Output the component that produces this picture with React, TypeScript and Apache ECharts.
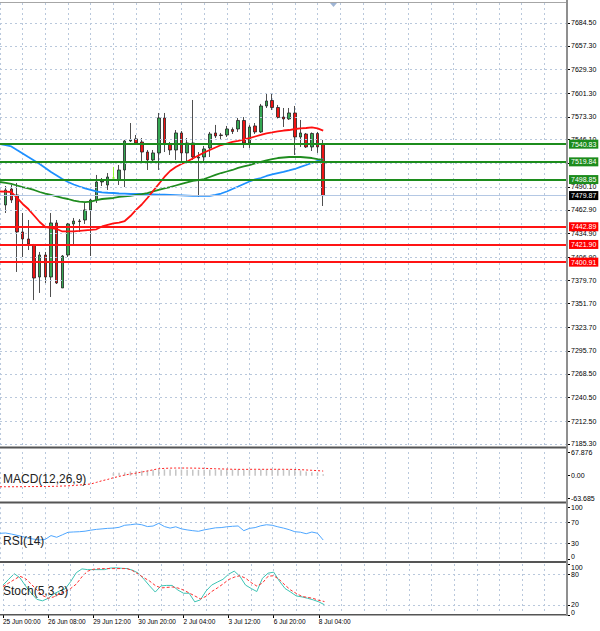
import React, { useEffect, useRef } from "react";
import * as echarts from "echarts";

const FONT = "'Liberation Sans', Arial, sans-serif";
const GRID_COLOR = "#b9c8dc";

// time axis: one slot per H4 bar, slot 0 = bar before the first visible candle
const slotCount = 101;
const timeLabels = ["25 Jun 00:00", "26 Jun 08:00", "29 Jun 12:00", "30 Jun 20:00", "2 Jul 04:00", "3 Jul 12:00", "6 Jul 20:00", "8 Jul 04:00"];
const timeLabelSlots = [0, 8, 16, 24, 32, 40, 48, 56];

// candles (bars 0..56, placed at slot bar+1)
const candleOpen = [7468.7, 7487.7, 7480.6, 7436.7, 7428.4, 7421.3, 7383.3, 7409.4, 7383.3, 7447.4, 7370.3, 7409.4, 7446.2, 7449.7, 7450.9, 7462.8, 7474.6, 7496.0, 7492.4, 7500.7, 7498.3, 7510.2, 7544.6, 7547.0, 7543.4, 7531.5, 7522.1, 7530.4, 7571.9, 7541.0, 7533.9, 7554.1, 7530.4, 7542.2, 7524.4, 7525.6, 7536.3, 7554.1, 7551.7, 7551.7, 7558.2, 7558.8, 7568.9, 7542.2, 7562.4, 7555.3, 7586.1, 7592.6, 7584.3, 7573.0, 7570.7, 7577.8, 7549.3, 7552.9, 7537.5, 7553.5, 7541.0];
const candleClose = [7486.5, 7474.6, 7436.7, 7428.4, 7422.5, 7382.1, 7409.4, 7383.3, 7447.4, 7376.2, 7408.2, 7446.2, 7449.7, 7449.1, 7462.8, 7474.6, 7496.0, 7497.2, 7501.9, 7500.7, 7510.2, 7544.6, 7545.8, 7542.2, 7531.5, 7522.1, 7530.4, 7571.9, 7541.0, 7533.9, 7554.1, 7530.4, 7542.2, 7525.6, 7525.6, 7535.1, 7552.9, 7550.5, 7551.1, 7558.8, 7555.9, 7568.9, 7542.2, 7561.2, 7555.3, 7586.1, 7592.0, 7584.3, 7572.4, 7570.7, 7577.8, 7549.3, 7554.1, 7537.5, 7553.5, 7537.5, 7479.87];
const candleLow = [7459.2, 7471.1, 7389.3, 7407.0, 7415.3, 7356.0, 7364.4, 7376.2, 7359.6, 7375.0, 7370.3, 7407.0, 7420.1, 7436.7, 7446.2, 7408.2, 7471.1, 7491.2, 7486.5, 7500.7, 7492.4, 7490.0, 7543.4, 7541.0, 7519.7, 7510.2, 7518.5, 7510.2, 7531.5, 7528.0, 7522.1, 7519.7, 7519.7, 7522.1, 7478.2, 7518.5, 7525.6, 7548.1, 7545.8, 7549.3, 7552.9, 7555.3, 7536.3, 7536.3, 7552.9, 7554.1, 7583.7, 7581.3, 7571.3, 7561.2, 7569.5, 7528.0, 7537.5, 7536.3, 7532.7, 7530.4, 7467.5];
const candleHigh = [7491.2, 7492.4, 7494.8, 7459.2, 7450.9, 7422.5, 7413.0, 7413.0, 7459.2, 7450.9, 7409.4, 7447.4, 7453.3, 7452.1, 7471.1, 7475.8, 7504.3, 7500.7, 7506.6, 7513.8, 7516.1, 7545.8, 7565.9, 7551.7, 7548.1, 7533.9, 7533.9, 7577.8, 7577.8, 7543.4, 7557.6, 7556.4, 7548.1, 7593.2, 7531.5, 7538.7, 7555.3, 7563.6, 7554.1, 7562.4, 7560.6, 7571.9, 7573.0, 7563.6, 7565.9, 7588.5, 7601.5, 7601.5, 7587.3, 7583.7, 7583.7, 7586.1, 7569.5, 7554.1, 7554.7, 7555.3, 7545.8];
const limeBars = [19];

// moving averages (slots 0..57)
const maFast = [7484.7, 7484.5, 7484.1, 7477.0, 7469.9, 7463.9, 7456.2, 7448.5, 7442.6, 7441.7, 7440.2, 7437.3, 7437.3, 7437.5, 7437.9, 7438.5, 7439.1, 7439.9, 7443.2, 7445.0, 7446.8, 7447.9, 7449.7, 7455.6, 7462.8, 7469.3, 7477.0, 7485.3, 7493.6, 7501.9, 7509.0, 7513.8, 7517.3, 7520.3, 7523.8, 7527.4, 7530.9, 7533.9, 7536.9, 7539.8, 7541.6, 7543.4, 7544.6, 7546.4, 7548.1, 7549.9, 7551.7, 7553.7, 7554.7, 7555.9, 7557.0, 7557.6, 7558.8, 7559.6, 7560.0, 7560.8, 7559.6, 7556.8];
const maMid = [7496.0, 7494.8, 7493.6, 7491.8, 7490.0, 7488.3, 7486.5, 7484.1, 7482.3, 7480.6, 7478.8, 7477.0, 7475.8, 7474.0, 7472.8, 7472.2, 7472.8, 7474.6, 7475.8, 7476.4, 7477.0, 7478.2, 7478.8, 7479.4, 7480.6, 7481.7, 7482.9, 7484.7, 7486.5, 7488.3, 7490.0, 7491.8, 7493.6, 7495.4, 7497.2, 7498.3, 7499.5, 7501.9, 7504.3, 7506.6, 7508.4, 7510.2, 7512.6, 7514.4, 7516.1, 7517.9, 7519.7, 7521.5, 7523.2, 7524.4, 7525.0, 7525.6, 7525.6, 7525.6, 7525.0, 7524.4, 7523.2, 7522.1];
const maSlow = [7541.0, 7539.8, 7538.1, 7533.9, 7529.8, 7525.6, 7521.5, 7517.3, 7512.6, 7507.8, 7503.7, 7499.5, 7496.0, 7493.0, 7490.6, 7488.3, 7486.5, 7484.7, 7483.7, 7483.2, 7482.9, 7482.3, 7482.1, 7481.7, 7481.7, 7481.7, 7481.5, 7481.4, 7481.1, 7480.9, 7480.6, 7480.3, 7480.0, 7479.7, 7479.4, 7479.4, 7479.4, 7479.4, 7480.6, 7482.3, 7484.7, 7487.7, 7490.6, 7493.6, 7496.6, 7499.0, 7500.7, 7503.1, 7504.9, 7506.6, 7508.0, 7509.6, 7511.4, 7513.8, 7516.1, 7518.5, 7520.9, 7523.2];

// price axis
const priceMin = 7181.74;
const priceMax = 7708.2;
const priceTicks = [7684.5, 7657.3, 7629.3, 7601.3, 7573.3, 7546.1, 7518.1, 7490.1, 7462.9, 7434.9, 7406.9, 7379.7, 7351.7, 7323.7, 7295.7, 7268.5, 7240.5, 7212.5, 7185.3];
const resistance = [7540.83, 7519.84, 7498.85];
const support = [7442.89, 7421.9, 7400.91];
const lastPrice = 7479.87;

// MACD(12,26,9)
const macdMin = -63.685;
const macdMax = 67.876;
const macdTicks = [67.876, 0, -63.685];
const macdHist = [null, null, null, null, null, null, null, null, null, null, null, null, null, null, null, null, null, null, null, null,
  7.7, 8.5, 9.5, 12.0, 13.4, 14.5, 15.5, 16.5, 17.7, 18.0, 17.8, 17.7, 17.5, 17.2, 17.0, 16.8, 16.8, 17.0, 17.2, 17.3, 17.5, 17.5, 17.7, 17.0, 17.2, 17.2, 17.8, 18.0, 18.0, 17.7, 17.3, 17.0, 16.5, 15.0, 12.0, 10.0, 8.6, 4.0];
const macdSignal = [-31.5, -31.5, -31.5, -31.5, -31.3, -31.0, -31.0, -31.0, -30.8, -30.5, -30.0, -29.5, -29.0, -28.0, -26.5, -25.0, -23.7, -19.0, -14.3, -10.5, -5.7, -2.0, 2.0, 4.9, 7.5, 10.6, 13.5, 17.0, 20.0, 21.0, 21.8, 22.0, 22.0, 22.0, 21.8, 21.5, 21.2, 20.5, 20.0, 19.5, 19.0, 18.5, 18.3, 18.2, 18.3, 18.5, 18.4, 18.3, 18.4, 18.5, 18.4, 18.3, 18.0, 17.3, 16.5, 15.5, 14.5, 13.4];

// RSI(14)
const rsiTicks = [100, 70, 30, 0];
const rsiLevels = [70, 30];
const rsi = [49.4, 50, 48, 45.5, 43, 40, 38, 36.5, 37.8, 45, 41.7, 46.5, 51.4, 52, 52.5, 53.5, 55.5, 57, 58, 59, 59.5, 61, 65, 66, 67.5, 66, 62.5, 63.5, 68.8, 62.5, 59.5, 62, 58, 56, 54.5, 53.3, 56, 58, 60, 60.5, 62, 63, 63.6, 54.5, 59, 60.5, 64, 66, 65, 62, 59.5, 56.5, 52.5, 51.5, 48.6, 51.9, 49.5, 36.4];

// Stoch(5,3,3)
const stochTicks = [100, 80, 20, 0];
const stochLevels = [80, 20];
const stochMain = [58.7, 70, 81, 73, 57, 43, 30.7, 27.8, 32.6, 41.3, 47, 51, 65.5, 83, 90.4, 89, 89, 89, 89, 92, 92.5, 91.6, 91, 87.7, 82, 70, 57, 45, 57, 58, 58, 49, 42.7, 42.7, 25.8, 29.7, 47, 58.7, 64.5, 70, 80, 86, 76, 58.7, 52, 46, 72, 82, 84, 66.5, 52, 45, 37.4, 35.5, 32.8, 29.7, 25.8, 20];
const stochSignal = [55.8, 62.6, 69.4, 76, 71.3, 60.7, 49, 38.4, 32.6, 35.5, 41.3, 46, 52, 60.7, 75, 85.8, 89.7, 90.6, 91, 91, 91, 91, 91, 86.8, 80, 73, 66.5, 57.8, 53, 54, 55, 53, 49, 43.2, 37.4, 31.6, 36.5, 46, 53, 60.7, 69.4, 74.2, 77, 72.3, 63.5, 56.8, 62.6, 76, 77, 69.4, 58.7, 49, 42.3, 36.5, 34.5, 32.6, 28.7, 26.4];

export default function App() {
  const ref = useRef<HTMLDivElement>(null);

  useEffect(() => {
    if (!ref.current) return;
    const chart = echarts.init(ref.current, null, { renderer: "svg" });

    const categories = Array.from({ length: slotCount }, (_, k) => {
      const li = timeLabelSlots.indexOf(k);
      return li >= 0 ? timeLabels[li] : "slot" + k;
    });
    const isLabelSlot = (i: number) => timeLabelSlots.indexOf(i) >= 0;

    const candleData = candleOpen.map((o, i) => {
      const value = [i + 1, o, candleClose[i], candleLow[i], candleHigh[i]];
      if (limeBars.indexOf(i) >= 0) {
        return { value, itemStyle: { color: "#7cfc00", color0: "#7cfc00", borderColor: "#7cfc00", borderColor0: "#7cfc00" } };
      }
      return value;
    });

    const xAxisFor = (gridIndex: number, showLabels: boolean) => ({
      type: "category",
      gridIndex,
      data: categories,
      boundaryGap: false,
      axisLine: { show: false },
      axisTick: showLabels
        ? { show: true, interval: (i: number) => isLabelSlot(i), length: 3, lineStyle: { color: "#000" } }
        : { show: false },
      axisLabel: showLabels
        ? { show: true, hideOverlap: false, interval: (i: number) => isLabelSlot(i), align: "left", fontSize: 6.5, color: "#000", margin: 3, fontFamily: FONT }
        : { show: false },
      splitLine: { show: true, interval: (i: number) => i % 4 === 0, lineStyle: { color: GRID_COLOR, type: [2, 3], width: 1 } },
    });

    const richBase = { fontSize: 7, color: "#000", fontFamily: FONT };
    const rich = {
      hi: { ...richBase, padding: [6, 0, 0, 0] },
      lo: { ...richBase, padding: [0, 0, 5, 0] },
    };

    const yAxisFor = (gridIndex: number, min: number, max: number, ticks: number[], fmt: (v: number) => string) => ({
      type: "value",
      gridIndex,
      position: "right",
      min,
      max,
      axisLine: { show: false },
      splitLine: { show: false },
      axisTick: { show: true, customValues: ticks, length: 3, lineStyle: { color: "#000" } },
      axisLabel: { customValues: ticks, hideOverlap: false, formatter: fmt, fontSize: 7, color: "#000", margin: 4, fontFamily: FONT, rich },
    });

    const levelLabel = (bg: string) => ({ backgroundColor: bg });
    const levelLines = [
      ...resistance.map((v) => ({ yAxis: v, lineStyle: { color: "#1c8c1c", width: 2, type: "solid" }, label: levelLabel("#1c8c1c") })),
      ...support.map((v) => ({ yAxis: v, lineStyle: { color: "#ff1414", width: 2, type: "solid" }, label: levelLabel("#ff0000") })),
    ];

    const dashedLevels = (vals: number[]) => ({
      silent: true,
      symbol: ["none", "none"],
      label: { show: false },
      lineStyle: { color: GRID_COLOR, type: [2, 3], width: 1 },
      data: vals.map((v) => ({ yAxis: v })),
    });

    const sepRect = (y: number, h: number, fill: string) => ({
      type: "rect",
      silent: true,
      z: 90,
      shape: { x: 0, y, width: 567, height: h },
      style: { fill },
    });
    const label = (text: string, y: number) => ({
      type: "text",
      silent: true,
      z: 100,
      x: 3,
      y,
      style: { text, fontSize: 12, fontFamily: FONT, fill: "#222", verticalAlign: "middle" },
    });

    chart.setOption({
      animation: false,
      backgroundColor: "#ffffff",
      grid: [
        { left: 0, right: 33, top: 3, height: 444 },
        { left: 0, right: 33, top: 452, height: 46 },
        { left: 0, right: 33, top: 507.2, height: 51.6 },
        { left: 0, right: 33, top: 564, height: 51 },
      ],
      xAxis: [xAxisFor(0, false), xAxisFor(1, false), xAxisFor(2, false), xAxisFor(3, true)],
      yAxis: [
        yAxisFor(0, priceMin, priceMax, priceTicks, (v) => v.toFixed(2)),
        yAxisFor(1, macdMin, macdMax, macdTicks, (v) => (v === 0 ? "0.00" : String(v))),
        yAxisFor(2, 0, 100, rsiTicks, (v) => (v === 0 ? "{lo|0}" : String(v))),
        yAxisFor(3, 0, 100, stochTicks, (v) => (v === 0 ? "{lo|0}" : v === 100 ? "{hi|100}" : String(v))),
      ],
      series: [
        {
          type: "line",
          xAxisIndex: 0,
          yAxisIndex: 0,
          data: [],
          z: 1,
          silent: true,
          markLine: {
            silent: true,
            symbol: ["none", "none"],
            label: { show: false },
            lineStyle: { color: GRID_COLOR, type: [2, 3], width: 1 },
            data: priceTicks.map((v) => ({ yAxis: v })),
          },
        },
        {
          type: "line",
          xAxisIndex: 0,
          yAxisIndex: 0,
          data: [],
          z: 2,
          silent: true,
          markLine: {
            silent: true,
            symbol: ["none", "none"],
            lineStyle: { color: "#b4c8e4", width: 1, type: "solid" },
            label: {
              show: true,
              position: "end",
              distance: 2,
              color: "#fff",
              backgroundColor: "#000",
              fontSize: 7,
              fontFamily: FONT,
              padding: [1, 2, 1, 2],
              formatter: (p: any) => Number(p.value).toFixed(2),
            },
            data: [{ yAxis: lastPrice }],
          },
        },
        {
          type: "candlestick",
          xAxisIndex: 0,
          yAxisIndex: 0,
          z: 3,
          barWidth: 3,
          encode: { x: 0, y: [1, 2, 3, 4] },
          itemStyle: { color: "#35a853", color0: "#f01414", borderColor: "#222", borderColor0: "#222", borderWidth: 0.8 },
          data: candleData,
        },
        { type: "line", xAxisIndex: 0, yAxisIndex: 0, z: 4, data: maSlow, showSymbol: false, silent: true, lineStyle: { color: "#1e90ff", width: 1.8 } },
        { type: "line", xAxisIndex: 0, yAxisIndex: 0, z: 4, data: maMid, showSymbol: false, silent: true, lineStyle: { color: "#1f8c1f", width: 1.8 } },
        { type: "line", xAxisIndex: 0, yAxisIndex: 0, z: 4, data: maFast, showSymbol: false, silent: true, lineStyle: { color: "#ff1010", width: 1.8 } },
        {
          type: "line",
          xAxisIndex: 0,
          yAxisIndex: 0,
          data: [],
          z: 5,
          silent: true,
          markLine: {
            silent: true,
            symbol: ["none", "none"],
            label: {
              show: true,
              position: "end",
              distance: 2,
              color: "#fff",
              fontSize: 7,
              fontFamily: FONT,
              padding: [1, 2, 1, 2],
              formatter: (p: any) => Number(p.value).toFixed(2),
            },
            data: levelLines,
          },
        },
        {
          type: "bar",
          xAxisIndex: 1,
          yAxisIndex: 1,
          data: macdHist,
          barWidth: 1.5,
          silent: true,
          itemStyle: { color: "#c4c4c4" },
        },
        { type: "line", xAxisIndex: 1, yAxisIndex: 1, data: macdSignal, showSymbol: false, silent: true, lineStyle: { color: "#ff2020", width: 1, type: [2, 2] } },
        {
          type: "line",
          xAxisIndex: 2,
          yAxisIndex: 2,
          data: rsi,
          showSymbol: false,
          silent: true,
          lineStyle: { color: "#4ea6ff", width: 1 },
          markLine: dashedLevels(rsiLevels),
        },
        {
          type: "line",
          xAxisIndex: 3,
          yAxisIndex: 3,
          data: stochMain,
          showSymbol: false,
          silent: true,
          lineStyle: { color: "#3cc4b4", width: 1 },
          markLine: dashedLevels(stochLevels),
        },
        { type: "line", xAxisIndex: 3, yAxisIndex: 3, data: stochSignal, showSymbol: false, silent: true, lineStyle: { color: "#ff3030", width: 1, type: [3, 2] } },
      ],
      graphic: [
        sepRect(2, 1, "#a6a6a6"),
        sepRect(446.5, 2, "#555555"),
        sepRect(501.5, 2, "#555555"),
        sepRect(561, 2, "#555555"),
        sepRect(614, 1.5, "#555555"),
        { type: "rect", silent: true, z: 91, shape: { x: 566, y: 0, width: 2, height: 616 }, style: { fill: "#8f8f8f" } },
        { type: "polygon", silent: true, z: 91, shape: { points: [[330, 3], [337, 3], [333.5, 7]] }, style: { fill: "#9fb5d5" } },
        label("MACD(12,26,9)", 479),
        label("RSI(14)", 541),
        label("Stoch(5,3,3)", 591),
      ],
    });

    return () => chart.dispose();
  }, []);

  return <div ref={ref} style={{ position: "absolute", left: 0, top: 0, width: 600, height: 631 }} />;
}
